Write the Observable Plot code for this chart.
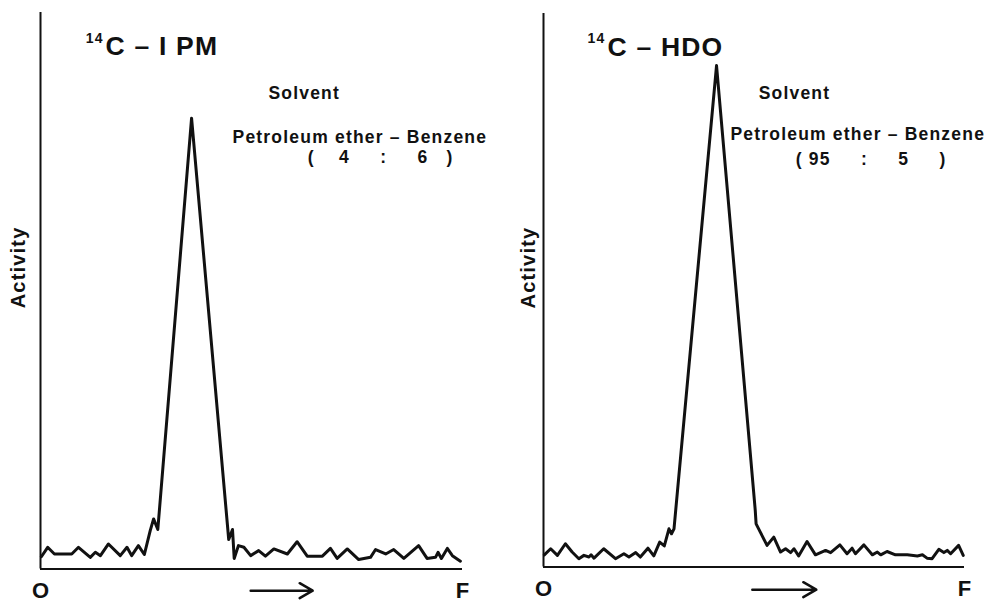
<!DOCTYPE html>
<html>
<head>
<meta charset="utf-8">
<script src="https://cdn.jsdelivr.net/npm/d3@7"></script>
<script src="https://cdn.jsdelivr.net/npm/@observablehq/plot@0.6"></script>
<style>
  html, body { margin: 0; padding: 0; background: #fff; overflow: hidden; }
  #chart { display: flex; width: 984px; height: 603px; }
  #chart svg { overflow: visible; }
  #chart svg text { letter-spacing: 1.2px; }
  #chart g[aria-label="compound"] text { letter-spacing: 0; }
  #chart g[aria-label="x-axis tick label"] text { letter-spacing: 0; }
  #chart g[aria-label="activity label"] text { letter-spacing: 2.6px; }
</style>
</head>
<body>
<div id="chart"></div>
<script>
// Radio-chromatogram scans: distance from origin (O) to solvent front (F), in % of run
const ipmDistance = [0.2, 1.7, 3.3, 7.4, 9.0, 11.8, 13.0, 14.2, 16.1, 18.9, 20.5, 21.6, 23.2, 24.6, 26.0, 26.8, 27.8, 35.8, 44.6, 45.5, 45.9, 46.9, 48.2, 49.8, 51.7, 53.3, 55.3, 58.5, 60.8, 63.2, 66.8, 68.7, 70.3, 72.7, 75.4, 78.2, 79.4, 81.8, 83.7, 86.1, 89.6, 91.6, 93.6, 94.2, 95.0, 96.4, 97.6, 99.5];
const ipmActivity = [2.2, 3.9, 2.7, 2.7, 3.9, 2.1, 3.0, 2.4, 4.5, 2.4, 3.9, 2.4, 4.2, 2.6, 6.9, 9.0, 7.1, 81.0, 5.3, 7.1, 1.9, 4.2, 3.9, 2.4, 3.3, 2.3, 3.6, 2.7, 4.9, 2.3, 2.3, 3.7, 1.9, 3.6, 1.7, 2.1, 3.5, 2.7, 3.5, 1.9, 4.2, 1.9, 2.1, 3.0, 1.9, 3.7, 2.4, 1.4];

const hdoDistance = [0.2, 1.7, 3.3, 5.2, 6.8, 8.4, 9.6, 10.8, 11.3, 12.0, 14.3, 17.1, 19.1, 20.3, 21.9, 23.0, 24.8, 26.2, 27.6, 28.7, 29.8, 30.4, 31.0, 41.1, 50.3, 50.5, 51.5, 53.1, 54.7, 56.3, 57.5, 58.7, 59.5, 60.6, 62.6, 64.6, 67.0, 68.2, 70.4, 72.1, 73.3, 74.1, 76.1, 78.1, 79.3, 80.1, 81.6, 83.6, 86.4, 88.8, 90.0, 91.1, 92.3, 93.9, 95.1, 95.9, 96.7, 98.6, 99.7];
const hdoActivity = [2.2, 3.3, 2.1, 4.2, 2.7, 1.5, 2.1, 1.8, 2.2, 1.6, 3.3, 1.5, 2.4, 1.8, 2.6, 1.8, 3.4, 2.0, 4.5, 3.8, 6.9, 6.0, 6.9, 90.6, 10.2, 7.8, 6.3, 3.9, 5.4, 2.7, 3.3, 2.6, 3.3, 2.0, 4.6, 2.2, 3.0, 2.6, 4.0, 2.4, 3.4, 2.4, 4.0, 2.2, 2.7, 2.2, 2.8, 2.2, 2.2, 2.0, 2.2, 1.6, 1.5, 3.2, 2.6, 3.0, 2.4, 3.9, 2.1];

// Labels
const isotope = "14";
const compounds = ["C – I PM", "C – HDO"];
const solventHeading = "Solvent";
const solventPair = ["Petroleum ether", "Benzene"];
const solventRatios = ["(    4     :     6   )", "( 95     :     5     )"];
const endLabels = ["O", "F"];
const yLabel = "Activity";

const nb = (s) => s.replace(/ /g, "\u00a0");

function panel({distance, activity, compound, ratio, margins, pos}) {
  const rows = distance.map((x, i) => ({x, y: activity[i]}));
  return Plot.plot({
    width: 492,
    height: 603,
    ...margins,
    style: {fontFamily: "'Liberation Sans', Arial, Helvetica, sans-serif", fontWeight: "bold", background: "#fff", color: "#111", overflow: "visible"},
    x: {domain: [0, 100]},
    y: {domain: [0, 100], axis: null},
    marks: [
      Plot.ruleX([0], {stroke: "#111", strokeWidth: 2}),
      Plot.ruleY([0], {stroke: "#111", strokeWidth: 2}),
      Plot.line(rows, {x: "x", y: "y", stroke: "#111", strokeWidth: 3}),
      Plot.axisX({
        ticks: [0, 100],
        tickFormat: (d) => (d === 0 ? endLabels[0] : endLabels[1]),
        tickSize: 0,
        tickPadding: 13,
        fontSize: 22,
        label: null
      }),
      Plot.arrow([0], {x1: pos.arrow[0], x2: pos.arrow[1], y1: pos.arrow[2], y2: pos.arrow[2], stroke: "#111", strokeWidth: 2.5, headLength: 9}),
      Plot.text([yLabel], {x: pos.ylab[0], y: pos.ylab[1], text: (d) => d, rotate: -90, fontSize: 20, ariaLabel: "activity label"}),
      Plot.text([isotope], {x: pos.iso[0], y: pos.iso[1], text: (d) => d, textAnchor: "start", lineAnchor: "bottom", fontSize: 14, ariaLabel: "compound"}),
      Plot.text([compound], {x: pos.title[0], y: pos.title[1], text: (d) => nb(d), textAnchor: "start", lineAnchor: "bottom", fontSize: 26.5, ariaLabel: "compound"}),
      Plot.text([solventHeading], {x: pos.solvent[0], y: pos.solvent[1], text: (d) => d, textAnchor: "start", lineAnchor: "bottom", fontSize: 17.5}),
      Plot.text([solventPair.join(" – ")], {x: pos.pair[0], y: pos.pair[1], text: (d) => d, textAnchor: "start", lineAnchor: "bottom", fontSize: 17.5}),
      Plot.text([ratio], {x: pos.ratio[0], y: pos.ratio[1], text: (d) => nb(d), textAnchor: "start", lineAnchor: "bottom", fontSize: 17.5})
    ]
  });
}

const chart = document.getElementById("chart");

chart.append(panel({
  distance: ipmDistance,
  activity: ipmActivity,
  compound: compounds[0],
  ratio: solventRatios[0],
  margins: {marginLeft: 40, marginRight: 30, marginTop: 12, marginBottom: 34.5},
  pos: {arrow: [49.8, 64.5, -3.9], ylab: [-5.2, 54.2], iso: [10.7, 94.5], title: [15.4, 92.3], solvent: [54.0, 84.4], pair: [45.5, 76.6], ratio: [63.3, 72.9]}
}));

chart.append(panel({
  distance: hdoDistance,
  activity: hdoActivity,
  compound: compounds[1],
  ratio: solventRatios[1],
  margins: {marginLeft: 51, marginRight: 20, marginTop: 13, marginBottom: 36.5},
  pos: {arrow: [49.6, 64.8, -4.1], ylab: [-3.6, 54.1], iso: [10.45, 94.6], title: [15.2, 92.4], solvent: [51.1, 84.6], pair: [44.4, 77.1], ratio: [59.9, 72.7]}
}));
</script>
</body>
</html>
